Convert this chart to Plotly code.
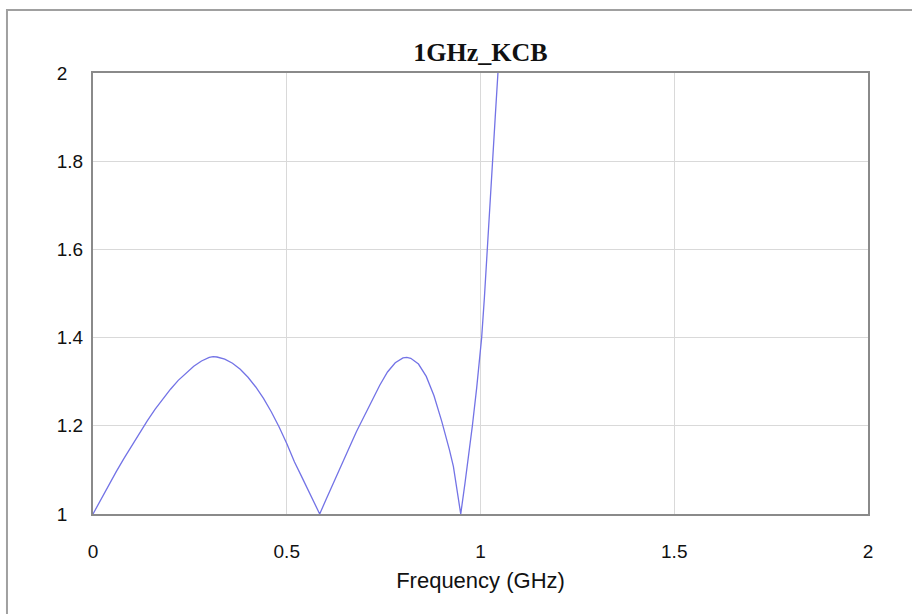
import plotly.graph_objects as go

# VSWR sweep, frequency in GHz
freq_ghz = [
    0.00, 0.02, 0.04, 0.06, 0.08, 0.10, 0.12, 0.14, 0.16, 0.18, 0.20, 0.22,
    0.24, 0.26, 0.28, 0.30, 0.31, 0.32, 0.34, 0.36, 0.38, 0.40, 0.42, 0.44,
    0.46, 0.48, 0.50, 0.52, 0.54, 0.56, 0.575, 0.585,
    0.60, 0.62, 0.64, 0.66, 0.68, 0.70, 0.72, 0.74, 0.76, 0.78, 0.80, 0.81,
    0.82, 0.84, 0.86, 0.88, 0.90, 0.91, 0.92, 0.93, 0.94, 0.949,
    0.96, 0.97, 0.979, 0.99, 1.003, 1.01, 1.018, 1.025, 1.031, 1.038, 1.045, 1.06,
]
vswr = [
    1.000, 1.033, 1.065, 1.096, 1.126, 1.155, 1.184, 1.211, 1.237, 1.261, 1.283, 1.303,
    1.320, 1.335, 1.347, 1.355, 1.357, 1.356, 1.351, 1.342, 1.328, 1.310, 1.288, 1.262,
    1.232, 1.198, 1.160, 1.118, 1.082, 1.046, 1.018, 1.000,
    1.030, 1.068, 1.106, 1.148, 1.187, 1.223, 1.257, 1.292, 1.322, 1.343, 1.354, 1.355,
    1.353, 1.340, 1.312, 1.268, 1.210, 1.180, 1.145, 1.108, 1.055, 1.000,
    1.070, 1.135, 1.200, 1.285, 1.400, 1.490, 1.600, 1.700, 1.800, 1.900, 2.000, 2.220,
]

x_ticks = [0, 0.5, 1, 1.5, 2]
x_tick_text = ["0", "0.5", "1", "1.5", "2"]
y_ticks = [1, 1.2, 1.4, 1.6, 1.8, 2]
# short labels padded (punctuation + figure space) so all labels start at the same x
y_tick_text = ["1\u2008\u2007", "1.2", "1.4", "1.6", "1.8", "2\u2008\u2007"]

tick_font = dict(family="Liberation Sans, Arial, sans-serif", size=19, color="#111")

fig = go.Figure()
fig.add_trace(go.Scatter(
    x=freq_ghz, y=vswr, mode="lines",
    line=dict(color="rgb(115,115,230)", width=1.3),
    showlegend=False, hoverinfo="x+y",
))

axis_common = dict(
    showline=True, mirror=True, linecolor="#8a8a8a", linewidth=2,
    showgrid=True, gridcolor="#d9d9d9", gridwidth=1,
    zeroline=False, ticks="", tickfont=tick_font,
)

fig.update_xaxes(
    range=[0, 2], tickvals=x_ticks, ticktext=x_tick_text,
    ticklabelstandoff=19,
    title=dict(text="Frequency (GHz)", standoff=12,
               font=dict(family="Liberation Sans, Arial, sans-serif", size=22, color="#111")),
    **axis_common,
)
fig.update_yaxes(
    range=[1, 2], tickvals=y_ticks, ticktext=y_tick_text,
    ticklabelstandoff=4,
    **axis_common,
)

# Outer frame around the whole chart
fig.add_shape(
    type="rect", xref="paper", yref="paper",
    x0=-0.111, x1=1.07, y0=-0.26, y1=1.1429,
    line=dict(color="#a0a0a0", width=2), fillcolor="rgba(0,0,0,0)", layer="below",
)

fig.update_layout(
    width=912, height=614,
    margin=dict(l=93, r=44, t=73, b=100),
    paper_bgcolor="white", plot_bgcolor="white",
    title=dict(
        text="<b>1GHz_KCB</b>", x=0.5, xanchor="center", xref="paper",
        y=1 - 52 / 614, yanchor="middle",
        font=dict(family="Liberation Serif, Times New Roman, serif", size=26, color="#111"),
    ),
)

fig.write_html("out.html")
